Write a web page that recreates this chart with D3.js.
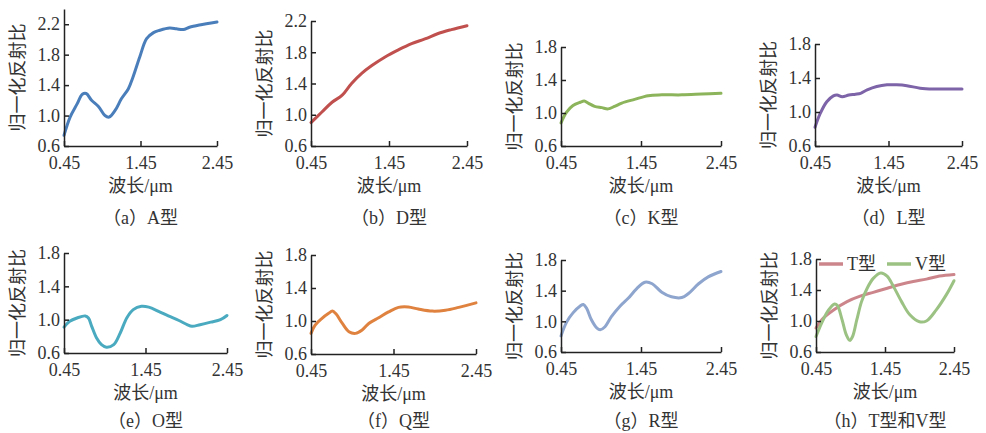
<!DOCTYPE html>
<html>
<head>
<meta charset="utf-8">
<script src="https://cdn.jsdelivr.net/npm/d3@7"></script>
<style>
  body { margin: 0; background: #fff; }
  svg text { font-family: "Liberation Serif", "Noto Sans CJK SC", serif; fill: #333; }
</style>
</head>
<body>
<div class="figure"></div>
<script>
// spectra: [wavelength um, normalised reflectance]
var typeA = [[0.45,0.74],[0.53,0.98],[0.62,1.15],[0.69,1.28],[0.74,1.29],[0.81,1.20],[0.90,1.12],[0.985,1.00],[1.04,0.98],[1.12,1.07],[1.20,1.22],[1.29,1.35],[1.35,1.50],[1.44,1.77],[1.53,2.01],[1.62,2.09],[1.70,2.12],[1.83,2.15],[1.92,2.14],[2.01,2.13],[2.09,2.16],[2.22,2.19],[2.45,2.23]];
var typeD = [[0.45,0.90],[0.59,1.035],[0.72,1.16],[0.85,1.25],[0.97,1.40],[1.10,1.53],[1.23,1.63],[1.40,1.74],[1.57,1.83],[1.74,1.91],[1.91,1.97],[2.08,2.04],[2.25,2.09],[2.45,2.14]];
var typeK = [[0.45,0.88],[0.52,1.01],[0.60,1.09],[0.69,1.13],[0.74,1.145],[0.79,1.12],[0.87,1.08],[0.96,1.065],[1.04,1.05],[1.12,1.08],[1.21,1.12],[1.37,1.165],[1.54,1.21],[1.71,1.22],[1.96,1.22],[2.21,1.23],[2.45,1.24]];
var typeL = [[0.45,0.82],[0.52,0.98],[0.61,1.12],[0.70,1.19],[0.75,1.20],[0.82,1.18],[0.91,1.20],[1.00,1.21],[1.07,1.22],[1.16,1.26],[1.29,1.30],[1.43,1.32],[1.56,1.32],[1.70,1.31],[1.88,1.28],[2.06,1.27],[2.24,1.27],[2.45,1.27]];
var typeO = [[0.45,0.91],[0.52,0.98],[0.61,1.02],[0.71,1.045],[0.75,1.02],[0.79,0.92],[0.85,0.78],[0.91,0.70],[0.97,0.67],[1.06,0.70],[1.14,0.84],[1.22,1.02],[1.30,1.12],[1.40,1.16],[1.49,1.15],[1.61,1.10],[1.73,1.045],[1.86,0.99],[1.96,0.94],[2.02,0.92],[2.12,0.94],[2.25,0.97],[2.37,1.00],[2.45,1.05]];
var typeQ = [[0.45,0.85],[0.50,0.95],[0.58,1.03],[0.66,1.09],[0.71,1.12],[0.75,1.09],[0.83,0.97],[0.91,0.87],[0.99,0.85],[1.07,0.89],[1.15,0.97],[1.27,1.04],[1.39,1.11],[1.51,1.165],[1.63,1.17],[1.75,1.145],[1.92,1.12],[2.08,1.13],[2.24,1.165],[2.45,1.22]];
var typeR = [[0.45,0.81],[0.52,0.99],[0.60,1.11],[0.69,1.20],[0.73,1.22],[0.77,1.17],[0.83,1.02],[0.90,0.91],[0.94,0.89],[1.00,0.93],[1.08,1.06],[1.19,1.20],[1.29,1.30],[1.40,1.43],[1.50,1.51],[1.59,1.49],[1.71,1.38],[1.83,1.32],[1.96,1.31],[2.04,1.36],[2.17,1.49],[2.29,1.58],[2.45,1.65]];
var typeT = [[0.45,0.91],[0.56,1.04],[0.70,1.14],[0.90,1.25],[1.09,1.32],[1.28,1.37],[1.47,1.42],[1.67,1.47],[1.86,1.51],[2.05,1.54],[2.24,1.58],[2.45,1.60]];
var typeV = [[0.45,0.80],[0.54,0.99],[0.63,1.14],[0.72,1.22],[0.76,1.20],[0.83,1.01],[0.89,0.82],[0.94,0.75],[0.98,0.80],[1.04,1.01],[1.11,1.25],[1.19,1.42],[1.28,1.55],[1.39,1.62],[1.48,1.58],[1.57,1.45],[1.69,1.25],[1.81,1.08],[1.95,0.99],[2.05,1.00],[2.19,1.14],[2.34,1.34],[2.45,1.52]];

var xTicks = [0.45, 1.45, 2.45];
var yTicksTall = [0.6, 1.0, 1.4, 1.8, 2.2];
var yTicksShort = [0.6, 1.0, 1.4, 1.8];

var xTitle = "波长/μm";
var yTitle = "归一化反射比";

// one entry per sub-figure: pixel box of the plot, y domain and its series
var panels = [
  {cap: "（a）A型", left: 64, right: 217, top: 9, bottom: 146, ymax: 2.4, ticks: yTicksTall, capY: 224,
   series: [{d: typeA, c: "#4a7ebb"}]},
  {cap: "（b）D型", left: 311, right: 467, top: 21, bottom: 146, ymax: 2.2, ticks: yTicksTall, capY: 224,
   series: [{d: typeD, c: "#c0504d"}]},
  {cap: "（c）K型", left: 561, right: 721, top: 47, bottom: 146, ymax: 1.8, ticks: yTicksShort, capY: 224,
   series: [{d: typeK, c: "#8cb45a"}]},
  {cap: "（d）L型", left: 815, right: 962, top: 44, bottom: 146, ymax: 1.8, ticks: yTicksShort, capY: 224,
   series: [{d: typeL, c: "#7d63a8"}]},
  {cap: "（e）O型", left: 64, right: 227, top: 253, bottom: 353, ymax: 1.8, ticks: yTicksShort, capY: 427,
   series: [{d: typeO, c: "#4aaabf"}]},
  {cap: "（f）Q型", left: 311, right: 476, top: 255, bottom: 354, ymax: 1.8, ticks: yTicksShort, capY: 427,
   series: [{d: typeQ, c: "#e0823f"}]},
  {cap: "（g）R型", left: 561, right: 721, top: 260, bottom: 352, ymax: 1.8, ticks: yTicksShort, capY: 427,
   series: [{d: typeR, c: "#8ea5cd"}]},
  {cap: "（h）T型和V型", left: 816, right: 954, top: 259, bottom: 352, ymax: 1.8, ticks: yTicksShort, capY: 427,
   series: [{d: typeT, c: "#cc868b", name: "T型"}, {d: typeV, c: "#9cc283", name: "V型"}]}
];

var svg = d3.select(".figure").append("svg")
  .attr("width", 986)
  .attr("height", 433);

panels.forEach(function (p) {
  var x = d3.scaleLinear().domain([0.45, 2.45]).range([p.left, p.right]);
  var y = d3.scaleLinear().domain([0.6, p.ymax]).range([p.bottom, p.top]);
  var g = svg.append("g");

  var line = d3.line()
    .x(d => x(d[0]))
    .y(d => y(d[1]))
    .curve(d3.curveCatmullRom.alpha(0.5));

  p.series.forEach(function (s) {
    g.append("path")
      .attr("d", line(s.d))
      .attr("fill", "none")
      .attr("stroke", s.c)
      .attr("stroke-width", 3)
      .attr("stroke-linecap", "round")
      .attr("stroke-linejoin", "round");
  });

  // axes, ticks point inward
  var xAxis = g.append("g")
    .attr("transform", "translate(0," + p.bottom + ")")
    .call(d3.axisBottom(x).tickValues(xTicks).tickFormat(d3.format(".2f"))
      .tickSizeInner(-5).tickSizeOuter(0).tickPadding(10));
  var yAxis = g.append("g")
    .attr("transform", "translate(" + p.left + ",0)")
    .call(d3.axisLeft(y).tickValues(p.ticks).tickFormat(d3.format(".1f"))
      .tickSizeInner(-5).tickSizeOuter(0).tickPadding(4));

  [xAxis, yAxis].forEach(function (a) {
    a.select(".domain").attr("stroke", "#222").attr("stroke-width", 1.5);
    a.selectAll(".tick line").attr("stroke", "#222").attr("stroke-width", 1.5);
    a.selectAll(".tick text")
      .style("font-size", "18px")
      .style("font-family", "'Liberation Serif', serif")
      .attr("fill", "#333");
  });

  var mid = (p.left + p.right) / 2;

  g.append("text")
    .attr("x", mid)
    .attr("y", p.bottom + 46)
    .attr("text-anchor", "middle")
    .style("font-size", "18px")
    .text(xTitle);

  g.append("text")
    .attr("transform", "translate(" + (p.left - 46) + "," + ((p.top + p.bottom) / 2) + ") rotate(-90)")
    .attr("dy", "0.35em")
    .attr("text-anchor", "middle")
    .style("font-size", "18px")
    .attr("fill", "#444")
    .text(yTitle);

  g.append("text")
    .attr("x", mid)
    .attr("y", p.capY)
    .attr("text-anchor", "middle")
    .style("font-size", "18px")
    .text(p.cap);

  // legend only where there are two series
  if (p.series.length > 1) {
    var offs = [3, 71];
    p.series.forEach(function (s, i) {
      var lx = p.left + offs[i];
      var ly = p.top + 5;
      g.append("line")
        .attr("x1", lx).attr("x2", lx + 24)
        .attr("y1", ly).attr("y2", ly)
        .attr("stroke", s.c)
        .attr("stroke-width", 3.5);
      g.append("text")
        .attr("x", lx + 28)
        .attr("y", ly)
        .attr("dy", "0.35em")
        .style("font-size", "18px")
        .text(s.name);
    });
  }
});
</script>
</body>
</html>
